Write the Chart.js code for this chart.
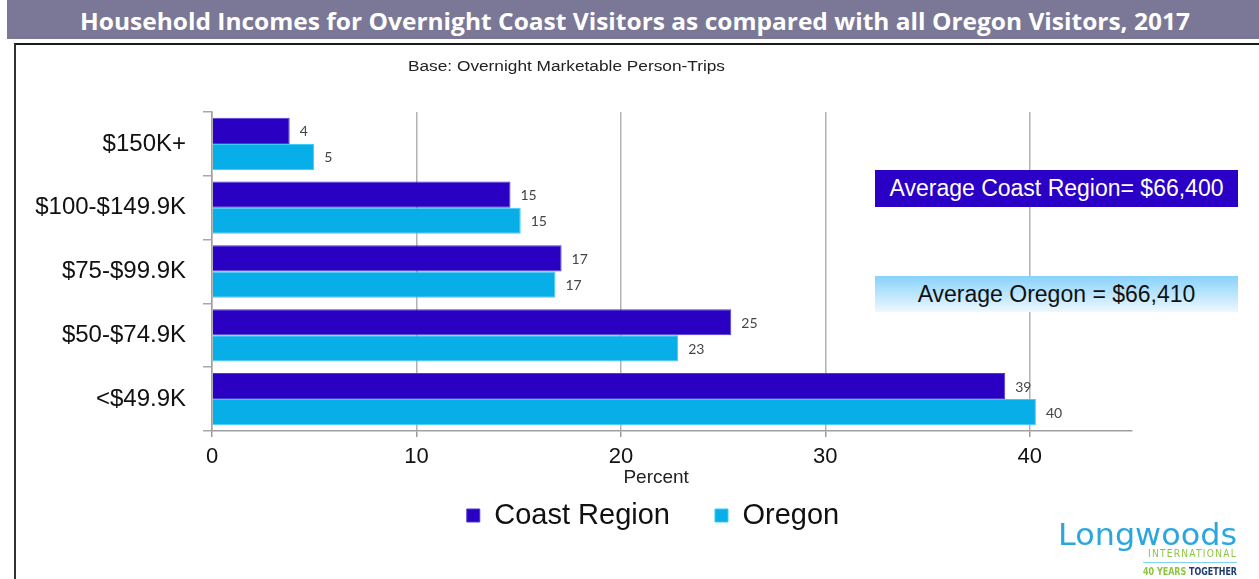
<!DOCTYPE html>
<html>
<head>
<meta charset="utf-8">
<script src="https://cdn.jsdelivr.net/npm/chart.js@4.4.1/dist/chart.umd.min.js"></script>
<style>
html,body{margin:0;padding:0;background:#fff;}
#wrap{position:relative;width:1259px;height:579px;overflow:hidden;background:#fff;font-family:"Liberation Sans",Arial,sans-serif;}
#band{position:absolute;left:7px;top:0;width:1252px;height:39px;background:#7b7897;}
#title{position:absolute;left:80px;top:0;height:39px;line-height:41px;white-space:nowrap;color:#fff;font-weight:bold;font-family:"Open Sans",sans-serif;font-size:24px;transform-origin:0 50%;display:inline-block;}
#frame{position:absolute;left:14px;top:43px;width:1260px;height:560px;border-top:2px solid #1a1a1a;border-left:2px solid #333;box-sizing:border-box;}
#chart{position:absolute;left:0;top:0;}
#sub{position:absolute;left:408px;top:58px;font-size:14px;color:#222;white-space:nowrap;display:inline-block;transform-origin:0 50%;}
.avg{position:absolute;left:875px;width:363px;text-align:center;font-size:23px;white-space:nowrap;}
#avgC{top:170px;height:37px;line-height:37px;background:#2a00c6;color:#fff;}
#avgO{top:276px;height:36px;line-height:37px;background:linear-gradient(#88d2fb,#eef8ff);color:#111;}
.fit{position:absolute;white-space:nowrap;display:inline-block;transform-origin:0 50%;}
#lw{left:1058px;top:518px;font-family:"DejaVu Sans",sans-serif;font-size:30px;line-height:34px;color:#2ba7df;}
#intl{left:1148px;top:548px;font-family:"DejaVu Sans",sans-serif;font-size:11px;line-height:12px;color:#8dc63f;letter-spacing:1.5px;}
#lline{position:absolute;left:1143px;top:562px;width:94px;height:1px;background:#86d3ef;}
#yrs{left:1143px;top:566px;font-family:"DejaVu Sans",sans-serif;font-size:10px;line-height:11px;font-weight:bold;}
</style>
</head>
<body>
<div id="wrap">
  <div id="band"></div>
  <div id="title">Household Incomes for Overnight Coast Visitors as compared with all Oregon Visitors, 2017</div>
  <div id="frame"></div>
  <canvas id="chart" width="1259" height="579"></canvas>
  <div id="sub">Base: Overnight Marketable Person-Trips</div>
  <div class="avg" id="avgC">Average Coast Region= $66,400</div>
  <div class="avg" id="avgO">Average Oregon = $66,410</div>
  <div class="fit" id="lw">Longwoods</div>
  <div class="fit" id="intl">INTERNATIONAL</div>
  <div id="lline"></div>
  <div class="fit" id="yrs"><span style="color:#8cc63f">40 YEARS</span> <span style="color:#1f3c6e">TOGETHER</span></div>
</div>
<script>
// ---- data ----
const categories = ['$150K+', '$100-$149.9K', '$75-$99.9K', '$50-$74.9K', '<$49.9K'];
const seriesNames = ['Coast Region', 'Oregon'];
const coastValues = [3.8, 14.6, 17.1, 25.4, 38.8];
const oregonValues = [5.0, 15.1, 16.8, 22.8, 40.3];
const coastLabels = ['4', '15', '17', '25', '39'];
const oregonLabels = ['5', '15', '17', '23', '40'];
const xTickValues = [0, 10, 20, 30, 40];
const xMax = 45;
const xTitle = 'Percent';

// ---- fit helper for HTML text ----
function fitWidth(id, target) {
  const el = document.getElementById(id);
  const w = el.getBoundingClientRect().width;
  el.style.transform = 'scaleX(' + (target / w) + ')';
}
fitWidth('title', 1110);
fitWidth('sub', 317);
fitWidth('lw', 179);
fitWidth('intl', 89);
fitWidth('yrs', 94);

const valueLabels = {
  id: 'valueLabels',
  afterDatasetsDraw(chart) {
    const ctx = chart.ctx;
    ctx.save();
    ctx.font = '14px Lato, "Open Sans", sans-serif';
    ctx.fillStyle = '#444';
    ctx.textBaseline = 'middle';
    ctx.textAlign = 'left';
    [coastLabels, oregonLabels].forEach((labels, di) => {
      chart.getDatasetMeta(di).data.forEach((bar, i) => {
        ctx.fillText(labels[i], bar.x + 10, bar.y + 1);
      });
    });
    ctx.restore();
  }
};

// place the (library-drawn) legend under the axis title
const legendPlace = {
  id: 'legendPlace',
  afterLayout(chart) {
    const lg = chart.legend;
    if (!lg) return;
    const dx = -19;
    lg.left += dx; lg.right += dx;
    lg.top = 456;
    lg.bottom = 579;
    lg.height = lg.bottom - lg.top;
  }
};

new Chart(document.getElementById('chart'), {
  type: 'bar',
  data: {
    labels: categories,
    datasets: [
      {
        label: seriesNames[0], data: coastValues,
        backgroundColor: '#2a00c2', borderColor: '#4b3bd8', borderWidth: 1,
        barPercentage: 1, categoryPercentage: 0.82
      },
      {
        label: seriesNames[1], data: oregonValues,
        backgroundColor: '#08aee8', borderColor: '#38cdfb', borderWidth: 1,
        barPercentage: 1, categoryPercentage: 0.82
      }
    ]
  },
  options: {
    indexAxis: 'y',
    responsive: false,
    animation: false,
    events: [],
    layout: { padding: { left: 0, right: 127, top: 112, bottom: 89 } },
    plugins: {
      tooltip: { enabled: false },
      title: { display: false },
      legend: {
        display: true,
        position: 'bottom',
        fullSize: false,
        maxHeight: 1,
        labels: {
          boxWidth: 13, boxHeight: 13, padding: 45,
          color: '#111',
          font: { size: 29, family: '"Liberation Sans", Arial, sans-serif' }
        }
      }
    },
    scales: {
      x: {
        type: 'linear', min: 0, max: xMax,
        afterBuildTicks: s => { s.ticks = xTickValues.map(v => ({ value: v })); },
        afterFit: s => { s.height = 58; },
        grid: { color: '#b2b2b2', lineWidth: 1.5, tickLength: 6, tickColor: '#9a9a9a' },
        border: { color: '#a0a0a0', width: 1.5 },
        ticks: {
          autoSkip: false, maxRotation: 0, padding: 7, color: '#111',
          font: { size: 22, family: '"Liberation Sans", Arial, sans-serif' }
        },
        title: {
          display: true, text: xTitle + '\u00a0\u00a0\u00a0\u00a0\u00a0\u00a0', color: '#222',
          font: { size: 19, family: '"Liberation Sans", Arial, sans-serif' },
          padding: { top: 0, bottom: 0 }
        }
      },
      y: {
        afterFit: s => { s.width = 212; },
        grid: { display: true, drawOnChartArea: false, offset: true, tickLength: 9, color: '#a8a8a8', lineWidth: 1.5 },
        border: { color: '#a0a0a0', width: 1.5 },
        ticks: {
          padding: 17, color: '#111',
          font: { size: 24, family: '"Liberation Sans", Arial, sans-serif' }
        }
      }
    }
  },
  plugins: [valueLabels, legendPlace]
});
</script>
</body>
</html>
